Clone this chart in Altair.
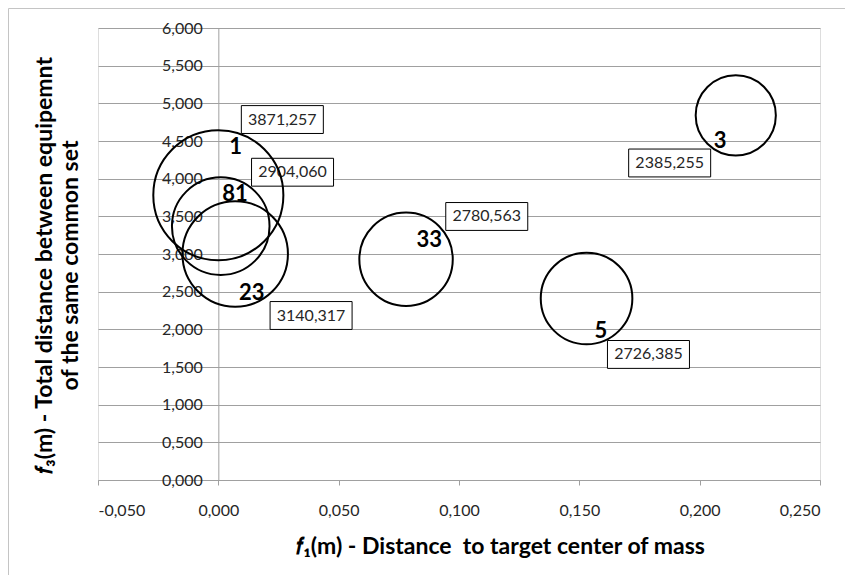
import altair as alt
import pandas as pd

# ---- data ----
SOLUTION = ["1", "81", "23", "33", "5", "3"]
F1 = [0.000, 0.001, 0.007, 0.078, 0.153, 0.215]          # x: distance to target center of mass
F3 = [3.78, 3.37, 3.00, 2.93, 2.41, 4.84]                 # y: total distance
F2 = [3871.257, 2904.060, 3140.317, 2780.563, 2726.385, 2385.255]  # bubble size / callout value

X_TICKS = [-0.05, 0.0, 0.05, 0.10, 0.15, 0.20, 0.25]
Y_TICKS = [0.0, 0.5, 1.0, 1.5, 2.0, 2.5, 3.0, 3.5, 4.0, 4.5, 5.0, 5.5, 6.0]

# ---- label placement (pixel offsets from bubble centre) ----
NUM_DX = [17.4, 14.3, 16.6, 23.3, 14.3, -15.6]
NUM_DY = [-48.5, -31.8, 38.7, -19.3, 32.2, 25.3]
BOX_DX = [64.0, 71.8, 75.9, 80.7, 61.9, -66.1]
BOX_DY = [-75.7, -53.9, 61.5, -42.8, 56.0, 47.6]

W, H = 722, 452
PAD = {"left": 90, "top": 20, "right": 25, "bottom": 95}
XMIN, XMAX = -0.05, 0.25
FONT = "Lato"
GRID = "#a0a0a0"
TXT = "#262626"
BOX_W = 82
BOX_PATH = "M-1,-0.34L1,-0.34L1,0.34L-1,0.34Z"
Y_AXIS_AT = (0 - XMIN) / (XMAX - XMIN) * W   # pixel position of x = 0

df = pd.DataFrame({"sol": SOLUTION, "f1": F1, "f3": F3, "f2": F2})
base = alt.Chart(df)

fmt = "replace(replace(format(datum.value, '.3f'), '.', ','), '\u2212', '-')"

x = alt.X(
    "f1:Q",
    scale=alt.Scale(domain=[XMIN, XMAX], nice=False, zero=False),
    axis=alt.Axis(
        values=X_TICKS, labelExpr=fmt, grid=False,
        domainColor=GRID, tickColor=GRID, tickSize=5, labelPadding=17,
        labelFont=FONT, labelFontSize=16, labelColor=TXT,
        title="\U0001D453\u2081(m) - Distance\u00a0 to target center of mass",
        titleFont=FONT, titleFontSize=23, titleFontWeight="bold", titleColor="#000",
        titleX=402, titleY=55, titleAlign="center", titleBaseline="top",
    ),
)
y = alt.Y(
    "f3:Q",
    scale=alt.Scale(domain=[0, 6], nice=False, zero=True),
    axis=alt.Axis(
        values=Y_TICKS, labelExpr=fmt, grid=True, gridColor=GRID, gridWidth=1,
        domainColor=GRID, ticks=False, labelPadding=16,
        offset=-Y_AXIS_AT,
        labelFont=FONT, labelFontSize=16, labelColor=TXT,
        title=["\U0001D453\u2083(m) - Total distance between equipemnt", "of the same common set"],
        titleFont=FONT, titleFontSize=23, titleFontWeight="bold", titleColor="#000",
        titleAngle=270, titleX=-185, titleY=237, titleAlign="center",
        titleBaseline="top", titleLineHeight=26,
    ),
)

layers = []
for i, s in enumerate(SOLUTION):
    sub = base.transform_filter(alt.datum.sol == s)
    layers.append(
        sub.mark_point(
            shape=BOX_PATH, size=BOX_W ** 2, filled=True, fill="white",
            stroke="black", strokeWidth=1, opacity=1,
            xOffset=BOX_DX[i], yOffset=BOX_DY[i],
        ).encode(x=x, y=y)
    )
    layers.append(
        sub.transform_calculate(lbl="replace(format(datum.f2, '.3f'), '.', ',')")
        .mark_text(dx=BOX_DX[i], dy=BOX_DY[i], font=FONT, fontSize=16, color=TXT,
                   align="center", baseline="middle")
        .encode(x=x, y=y, text="lbl:N")
    )

bubbles = base.mark_point(
    shape="circle", filled=False, stroke="black", strokeWidth=2, opacity=1
).encode(
    x=x, y=y,
    size=alt.Size("f2:Q", scale=alt.Scale(type="pow", exponent=2, domain=[0, 4000],
                                           range=[0, 18063]), legend=None),
)
layers.append(bubbles)

for i, s in enumerate(SOLUTION):
    sub = base.transform_filter(alt.datum.sol == s)
    layers.append(
        sub.mark_text(dx=NUM_DX[i], dy=NUM_DY[i], font=FONT, fontSize=22,
                      fontWeight="bold", color="#000", align="center", baseline="middle")
        .encode(x=x, y=y, text="sol:N")
    )

frame = pd.DataFrame({"k": [0]})
top_line = alt.Chart(frame).mark_rule(color="#c4c4c4", strokeWidth=1).encode(
    x=alt.value(-PAD["left"] + 0.5), x2=alt.value(W + PAD["right"]), y=alt.value(-PAD["top"] + 0.5)
)
left_line = alt.Chart(frame).mark_rule(color="#c4c4c4", strokeWidth=1).encode(
    x=alt.value(-PAD["left"] + 0.5), y=alt.value(-PAD["top"] + 0.5), y2=alt.value(H + PAD["bottom"])
)
layers += [top_line, left_line]

chart = alt.layer(*layers).properties(
    width=W, height=H,
    autosize=alt.AutoSizeParams(type="none"),
    padding=PAD,
).configure_view(stroke=None).configure(font=FONT)

chart.save("out.html", embed_options={"renderer": "svg", "actions": False})
